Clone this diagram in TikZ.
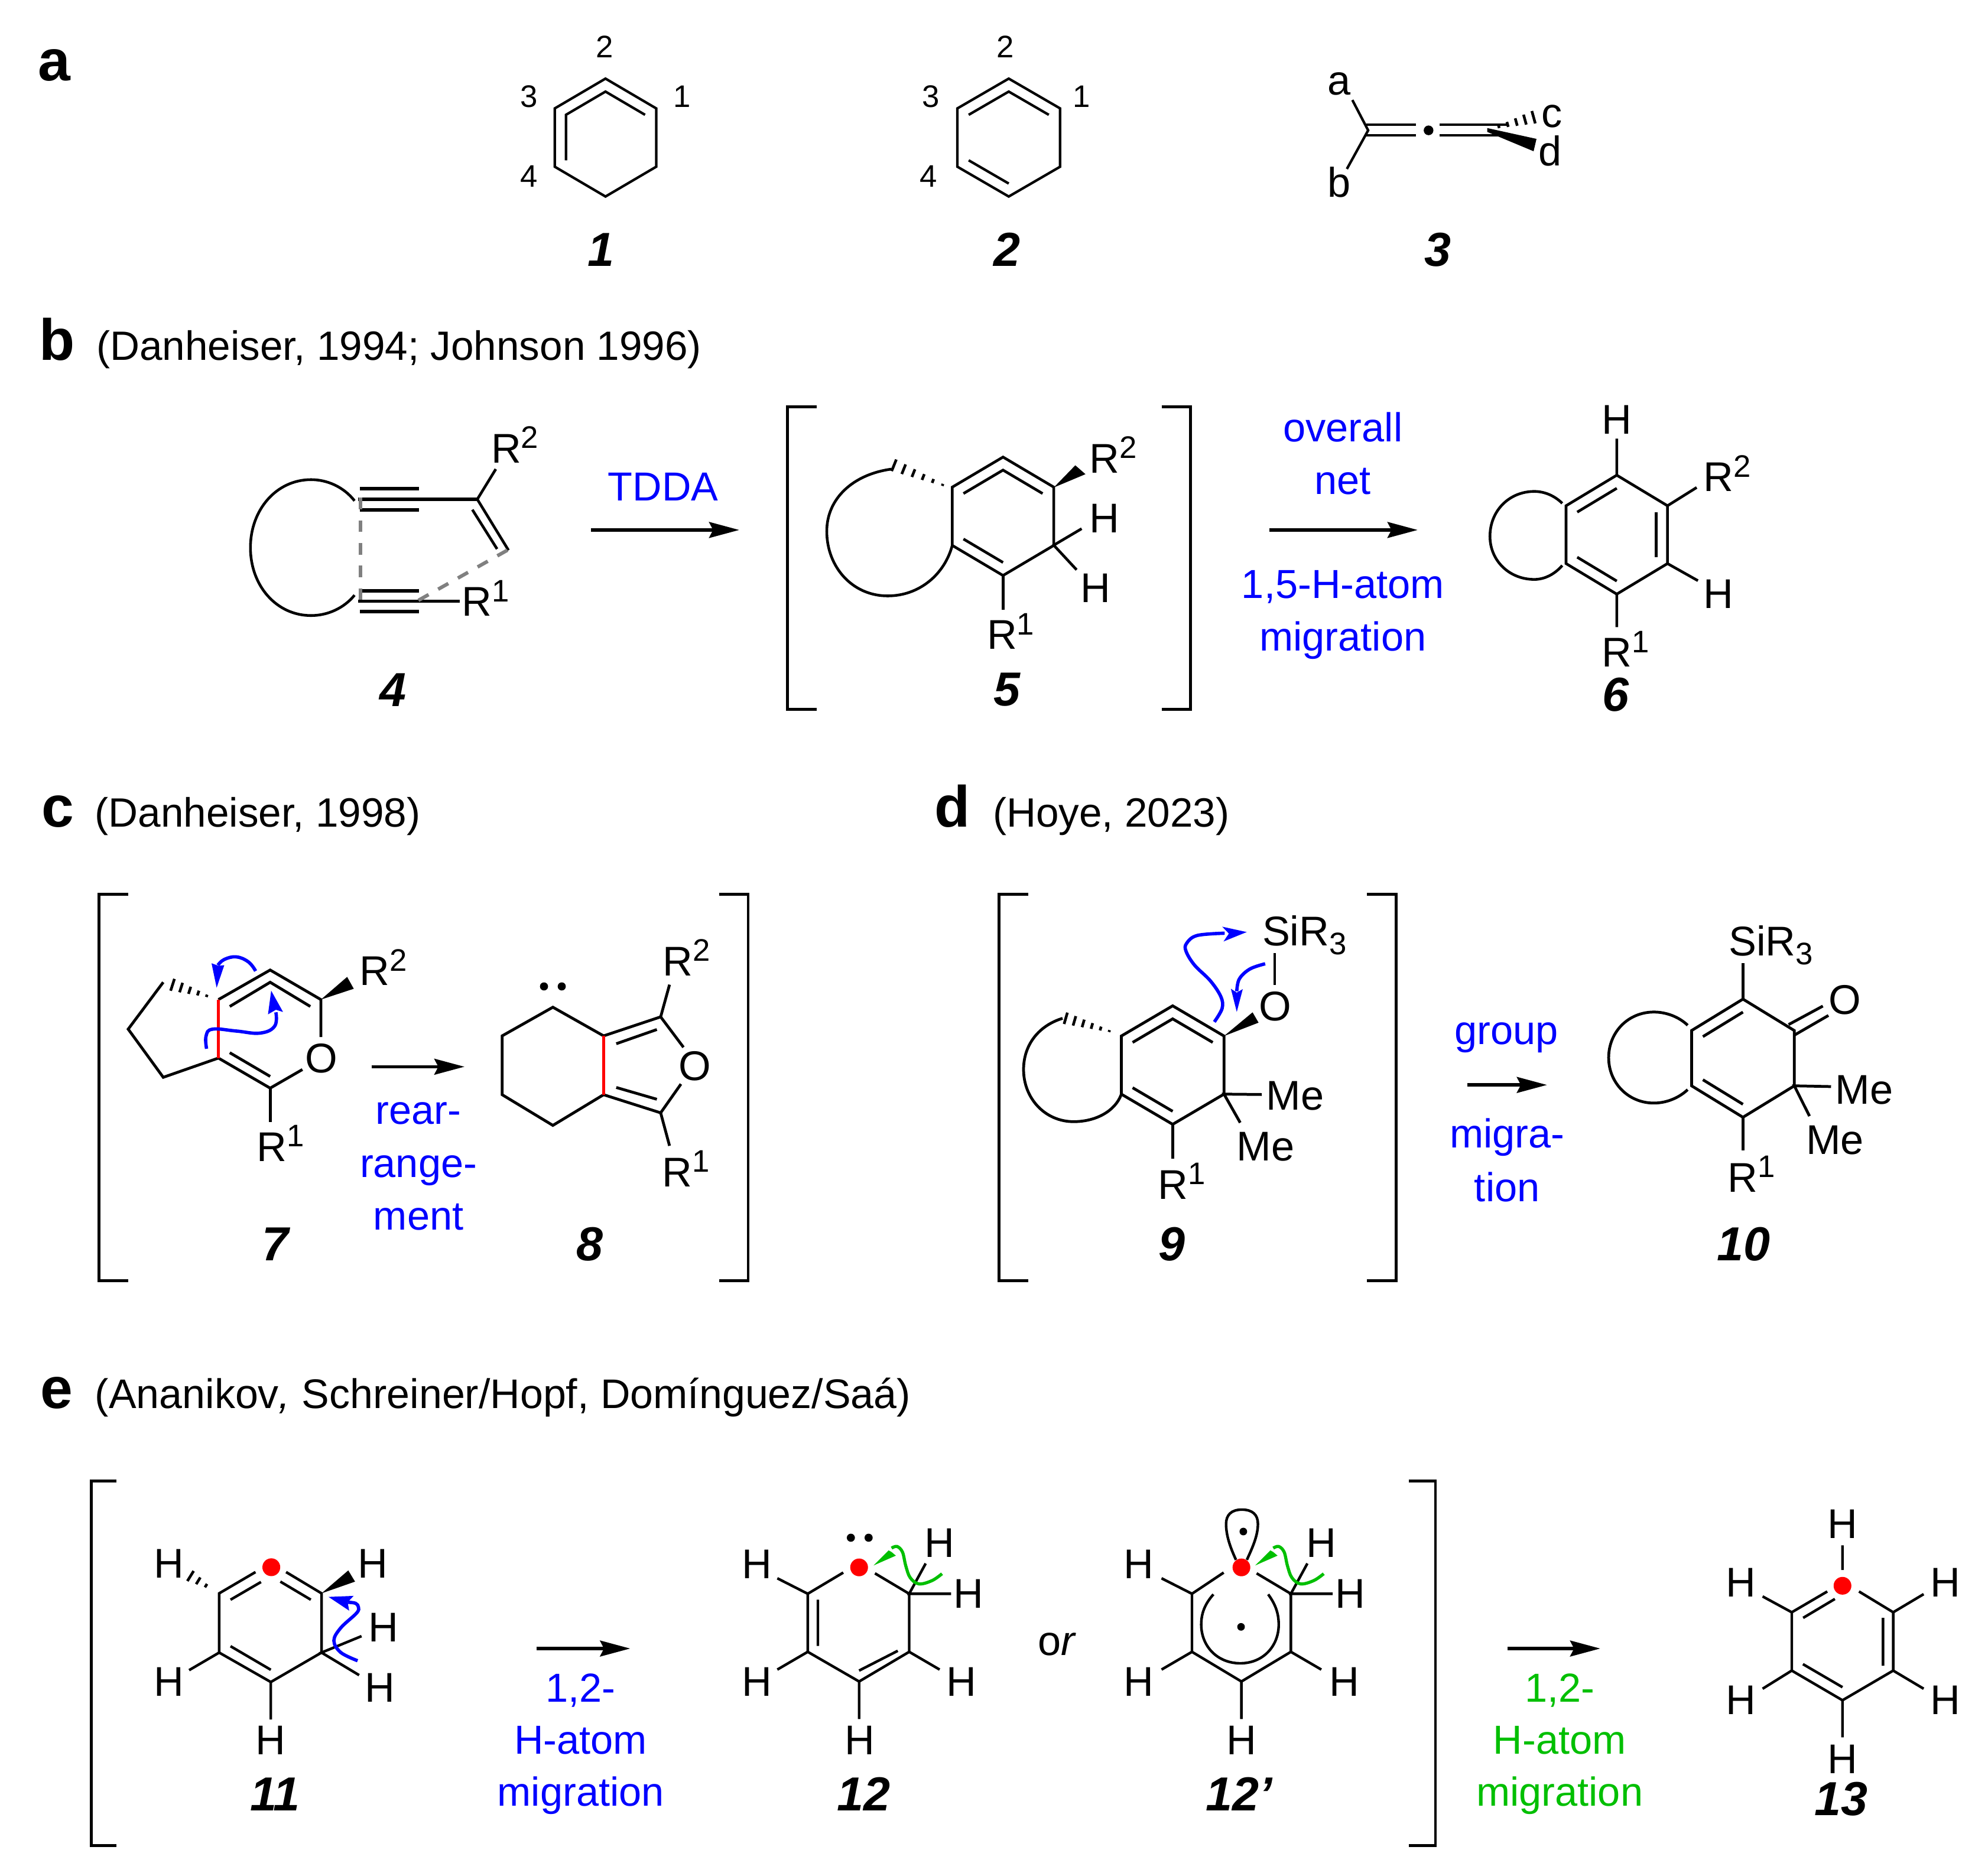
\documentclass[tikz,border=0pt]{standalone}
\usepackage{fontspec}
\setmainfont{Liberation Sans}
\usetikzlibrary{calc,arrows.meta}
\definecolor{cblue}{rgb}{0,0,1}
\definecolor{cgreen}{rgb}{0,0.75,0}
\definecolor{cred}{rgb}{1,0,0}
\definecolor{cgray}{gray}{0.5}
\newcommand\hexc[6]{%
 \coordinate (#11) at (#2,#3-#5);\coordinate (#12) at (#2+#4,#3-#6);\coordinate (#13) at (#2+#4,#3+#6);
 \coordinate (#14) at (#2,#3+#5);\coordinate (#15) at (#2-#4,#3+#6);\coordinate (#16) at (#2-#4,#3-#6);
 \coordinate (#1C) at (#2,#3);}
\newcommand\inp[2]{($(#1#2)!.22!(#1C)$)}
\newcommand\Tc[3]{\node[chem] (#1) at (#2) {#3};}
\newcommand\Tw[3]{\node[chem,anchor=base west,xshift=-1pt] (#1) at (#2) {#3};}
\newcommand\RS[1]{R\raisebox{7pt}{\fontsize{15}{15}\selectfont #1}}
\newcommand\SIR{SiR\raisebox{-4pt}{\fontsize{15}{15}\selectfont 3}}
\newcommand\Small[3]{\node[chem,font=\fontsize{15}{15}\selectfont] (#1) at (#2) {#3};}
\newcommand\Num[3]{\node[chem,font=\fontsize{23}{23}\selectfont\bfseries\itshape] (#1) at (#2) {#3};}
\newcommand\Pan[3]{\node[chem,anchor=base west,font=\fontsize{28}{28}\selectfont\bfseries] (#1) at (#2) {#3};}
\newcommand\Cit[3]{\node[chem,anchor=base west,font=\fontsize{19.7}{20}\selectfont] (#1) at (#2) {#3};}
\newcommand\Blu[3]{\node[chem,anchor=base,text=cblue,font=\fontsize{19.5}{20}\selectfont] (#1) at (#2) {#3};}
\newcommand\Gre[3]{\node[chem,anchor=base,text=cgreen,font=\fontsize{19.5}{20}\selectfont] (#1) at (#2) {#3};}
\newcommand\Rxn[4]{\coordinate (#1s) at (#2,#4);\coordinate (#1e) at (#3,#4);\draw[rxn] (#1s) -- (#1e);}
\newcommand\Brk[4]{%
 \draw[brk] (#1+23,#3) -- (#1,#3) -- (#1,#4) -- (#1+23,#4);
 \draw[brk] (#2-23,#3) -- (#2,#3) -- (#2,#4) -- (#2-23,#4);}
\newcommand\hashw[4]{%
 \coordinate (ha) at #1;\coordinate (hb) at #2;\coordinate (hc) at ($(ha)!1.5!(hb)$);
 \foreach \hi in {1,...,#4}{%
  \pgfmathsetmacro\hf{\hi/#4}\pgfmathsetmacro\hd{0.5*#3*\hf}%
  \coordinate (hP) at ($(ha)!\hf!(hb)$);
  \draw[hashl] ($(hP)!\hd pt!90:(hc)$) -- ($(hP)!\hd pt!-90:(hc)$);
 }}
\tikzset{
 chem/.style={inner sep=0pt,outer sep=0pt,font=\fontsize{20}{20}\selectfont},
 hashl/.style={line width=1.3pt},
 rxn/.style={line width=1.6pt,-{Stealth[length=14.5pt 0 0,width=7.6pt 0,inset=1.9pt 0]}},
 brk/.style={line width=1.4pt,line join=miter},
 blc/.style={cblue,line width=1.6pt},
 grc/.style={cgreen,line width=1.5pt},
 dsh/.style={cgray,line width=1.7pt,dash pattern=on 5.6pt off 5.3pt},
 redb/.style={cred,line width=1.4pt},
 Pa/.style={x=0.021454cm,y=-0.021456cm},
 Pb/.style={shift={(0,3.01)},x=0.021454cm,y=-0.021456cm},
 Pc/.style={shift={(0,5.33)},x=0.021454cm,y=-0.021456cm},
 Hy/.style={x=0.021454cm},
}
\begin{document}
\begin{tikzpicture}[x=0.021564cm,y=-0.021564cm]
\useasboundingbox (0,0) rectangle (1560,1472.35);
\fill[white] (0,0) rectangle (1560,1472.35);
%% ---- panel a
\begin{scope}[line width=1.2pt]
\begin{scope}[Pa]
\Pan{pa}{30,63.8}{a}
\hexc{ra}{477.5}{108.5}{40}{46.5}{23}
\draw (ra1)--(ra2)--(ra3)--(ra4)--(ra5)--(ra6)--cycle;
\draw \inp{ra}{2} -- \inp{ra}{1} -- \inp{ra}{6} -- \inp{ra}{5};
\Small{a2}{477,37}{2}\Small{a1}{538,76}{1}\Small{a3}{417,76}{3}\Small{a4}{417,139}{4}
\hexc{rb}{795.5}{108.5}{40.5}{46.5}{23}
\draw (rb1)--(rb2)--(rb3)--(rb4)--(rb5)--(rb6)--cycle;
\draw \inp{rb}{2} -- \inp{rb}{1} -- \inp{rb}{6};
\draw \inp{rb}{5} -- \inp{rb}{4};
\Small{b2}{793,37}{2}\Small{b1}{853,76}{1}\Small{b3}{734,76}{3}\Small{b4}{732,139}{4}
\Num{n1}{474,197}{1}\Num{n2}{794,197}{2}\Num{n3}{1134,197}{3}
\end{scope}
% allene 3
\draw (1061.2,78.5)--(1073.6,102.3)--(1056.9,132.6);
\draw (1072,97.9)--(1111.1,97.9) (1072,106.3)--(1111.1,106.3);
\fill (1121,102.3) circle (3.8);
\draw (1129.7,97.9)--(1182.5,97.9) (1129.7,106.3)--(1176.3,106.3);
\hashw{(1169.4,101.4)}{(1203.4,92)}{6.2}{5}
\fill (1167,100.5)--(1205.7,109)--(1203.4,118.7)--(1167,103.5)--cycle;
\Tc{la}{1051,65.7}{a}\Tc{lb}{1051,143}{b}\Tc{lc}{1217.6,91.2}{c}\Tc{ld}{1216.5,118.3}{d}
\end{scope}
%% ---- panel b
\begin{scope}[line width=1.3pt,Pa]
\Pan{pb}{31,284}{b}
\Cit{cb}{76,284}{(Danheiser, 1994; Johnson 1996)}
% 4
\draw (279.6,395) .. controls (271,384) and (258,378.3) .. (245.3,378.3) .. controls (218,378.3) and (197.5,402) .. (197.5,431.9) .. controls (197.5,462) and (218,485.5) .. (245.3,485.5) .. controls (258,485.5) and (271,480) .. (279.6,469.4);
\draw[line width=1.7pt] (283.7,385.3)--(330.6,385.3) (283.7,402.2)--(330.6,402.2) (283.7,466.1)--(330.6,466.1) (283.7,482.5)--(330.6,482.5);
\draw[line width=1.45pt] (282.4,393.8)--(376.4,393.8) (282.4,474.1)--(362.7,474.1);
\draw (391,370)--(376.4,393.8)--(401,434);
\draw (372.5,402)--(392,433);
\draw[dsh] (284.4,392.6)--(284.4,474.3);
\draw[dsh] (400.2,433.9)--(330,473.5);
\Tw{r2a}{389,365}{\RS{2}}\Tw{r1a}{366,486}{\RS{1}}
\Num{n4}{310,544}{4}
\Rxn{ar1}{466}{583}{418}
\Blu{tdda}{523,395}{TDDA}
\Brk{621}{939}{320.7}{559.5}
% 5
\hexc{re}{791}{407.2}{40}{46.7}{23}
\draw (re1)--(re2)--(re3)--(re4)--(re5)--(re6)--cycle;
\draw \inp{re}{2} -- \inp{re}{1} -- \inp{re}{6};
\draw \inp{re}{5} -- \inp{re}{4};
\fill (831,384.5)--(848,367)--(856,374)--cycle;
\hashw{(751,385.5)}{(705,367)}{6}{6}
\draw (703,370) .. controls (673,374) and (652,393) .. (652,419) .. controls (652,447) and (672,470) .. (700,470) .. controls (725,470) and (745,453) .. (751,430);
\draw (853,417)--(831,430)--(849,449.4);
\draw (791,454)--(791,481);
\Tw{r2b}{861,373}{\RS{2}}\Tc{h5a}{871,409}{H}\Tc{h5b}{864,463.7}{H}\Tw{r1b}{780,512}{\RS{1}}
\Num{n5}{794,544}{5}
\Rxn{ar2}{1001}{1118}{418}
\Blu{ov}{1059,348.5}{overall}\Blu{nt}{1059,390}{net}\Blu{h15}{1059,472}{1,5-H-atom}\Blu{mg1}{1059,513.5}{migration}
% 6
\hexc{rf}{1275}{421.7}{40}{46.9}{22.8}
\draw (rf1)--(rf2)--(rf3)--(rf4)--(rf5)--(rf6)--cycle;
\draw \inp{rf}{6} -- \inp{rf}{1};
\draw \inp{rf}{2} -- \inp{rf}{3};
\draw \inp{rf}{5} -- \inp{rf}{4};
\draw (rf1)--(1275,346) (rf2)--(1338,384.5) (rf3)--(1339,458) (rf4)--(1275,494.6);
\draw (1232,397) .. controls (1226,391) and (1218,387.6) .. (1210,387.6) .. controls (1190,387.6) and (1175,403) .. (1175,423) .. controls (1175,442) and (1190,457) .. (1210,457) .. controls (1218,457) and (1226,453) .. (1232,446);
\Tc{h6a}{1275,331}{H}\Tw{r2c}{1345,387.6}{\RS{2}}\Tc{h6b}{1355,468.7}{H}\Tw{r1c}{1265,526}{\RS{1}}
\Num{n6}{1274,548}{6}
\end{scope}
%% ---- panel c
\begin{scope}[line width=1.35pt]
\begin{scope}[Pb]
\Pan{pc}{33,649.4}{c}
\Cit{cc}{75,649.4}{(Danheiser, 1998)}
\Brk{78}{590}{702.5}{1007}
\end{scope}
% 7
\draw (171.4,784.5)--(212,761.3)--(251.8,784.5)--(251.8,813.9);
\draw (237.3,839.4)--(212,854)--(171.4,830.4)--(128.1,845.5)--(100.6,807.7)--(128.1,770.9);
\draw (180.3,789.9)--(212,770.9)--(243.5,789.9);
\draw (180.3,826.2)--(212,844.8);
\draw (212,854)--(212,880.8);
\fill (251.8,784.5)--(272.4,766.7)--(277.6,776)--cycle;
\hashw{(168.9,783.7)}{(135.4,772.9)}{6}{5}
\draw[redb] (171.4,784.5)--(171.4,830.4);
\Tc{o7}{252.2,830.9}{O}\Tw{r27}{283.8,773.4}{\RS{2}}\Tw{r17}{203,911.3}{\RS{1}}
\draw[blc] plot[smooth,tension=.7] coordinates {(200.6,762.1) (195,755) (185.5,751) (176,753) (171,757.5)};
\fill[cblue] (170,775.2)--(166,756)--(171.5,758)--(176,757.5)--cycle;
\draw[blc] plot[smooth,tension=.7] coordinates {(162.1,823.1) (161.7,813.1) (166.9,807.7) (185.5,809.2) (204.1,810.8) (215.5,805.4) (216.5,794.5)};
\fill[cblue] (212.8,777.5)--(222.1,794.2)--(216.5,792.5)--(210.3,796.1)--cycle;
\Rxn{ar3}{291.5}{364.5}{837.2}
\begin{scope}[Pb]
\Blu{re1}{330,883.7}{rear-}\Blu{re2}{330,925.5}{range-}\Blu{re3}{330,967.2}{ment}
% 8
\draw (476,814)--(436,791.4)--(396,814)--(396,860.4)--(436,884.6)--(476,860.4);
\draw (476,814)--(521,799)--(539,823);
\draw (476,860.4)--(521,874.7)--(537,852);
\draw (486,820.2)--(518,809) (486,854.7)--(518,864);
\draw (521,799)--(528,773.6) (521,874.7)--(528,900.7);
\draw[redb] (476,814)--(476,860.4);
\fill (429,775) circle (3.2) (443,775) circle (3.2);
\Tc{o8}{548,837.8}{O}\Tw{r28}{524.5,766.6}{\RS{2}}\Tw{r18}{524,933}{\RS{1}}
\Num{n7}{217,978.4}{7}\Num{n8}{465,978.4}{8}
\end{scope}
\end{scope}
%% ---- panel d
\begin{scope}[line width=1.35pt]
\begin{scope}[Pb]
\Pan{pd}{737,649.4}{d}
\Cit{cd}{783,649.4}{(Hoye, 2023)}
\Brk{788}{1101}{702.5}{1007}
\end{scope}
\hexc{rg}{920.2}{835.9}{40.3}{46.5}{22.8}
\draw (rg1)--(rg2)--(rg3)--(rg4)--(rg5)--(rg6)--cycle;
\draw \inp{rg}{2} -- \inp{rg}{1} -- \inp{rg}{6};
\draw \inp{rg}{5} -- \inp{rg}{4};
\fill (960.5,813.1)--(982.9,794.5)--(987.6,802.6)--cycle;
\hashw{(877.3,811.2)}{(836.3,799.2)}{5.7}{6}
\draw (833.8,799.2) .. controls (815,805) and (803.2,820) .. (803.2,839.4) .. controls (803.2,862) and (820,880.3) .. (842.5,880.3) .. controls (860,880.3) and (875,872) .. (879.8,859.1);
\draw (1000.3,772.9)--(1000.3,748.2);
\draw (990.1,859)--(960.5,858.7)--(973.2,881.1);
\draw (920.4,881.9)--(920.4,909.2);
\Tc{o9}{1000.5,789.9}{O}\Tw{si9}{992.2,742.4}{\SIR}\Tw{me9a}{995.3,871}{Me}\Tw{me9b}{972.1,910.8}{Me}
\draw[blc] plot[smooth,tension=.6] coordinates {(952.9,802) (959,791.4) (958,782.2) (949.8,769.8) (937.3,757.4) (930.7,746.6) (931.1,740.4) (939.4,734.2) (961,732.4)};
\fill[cblue] (978.3,731.5)--(959.1,727.3)--(964.3,732.7)--(960.1,738.9)--cycle;
\draw[blc] plot[smooth,tension=.6] coordinates {(992.8,756.4) (980.8,760.5) (972.5,768.3) (970.5,778)};
\fill[cblue] (970.5,794.2)--(965.9,776)--(970.5,779)--(975.2,776.3)--cycle;
\begin{scope}[Pb]
\Tw{r19}{915,942.6}{\RS{1}}
\Rxn{ar4}{1157}{1220}{852.7}
\Blu{gp}{1188,820.5}{group}\Blu{mg2}{1188.5,902.2}{migra-}\Blu{ti}{1188.5,944.5}{tion}
\hexc{rh}{1374.5}{831.6}{40.5}{46.6}{21.8}
\draw (rh1)--(rh2)--(rh3)--(rh4)--(rh5)--(rh6)--cycle;
\draw \inp{rh}{6} -- \inp{rh}{1};
\draw \inp{rh}{5} -- \inp{rh}{4};
\draw (1410.5,805.1)--(1437.5,790.5) (1415.1,813.4)--(1441.9,797.9);
\draw (rh1)--(1374.5,756.7);
\draw (1444,854)--(rh3)--(1427,877.3);
\draw (rh4)--(1374.5,904.4);
\draw (1330.9,805.6) .. controls (1324,799) and (1314,795.2) .. (1304.3,795.2) .. controls (1284,795.2) and (1268.6,811) .. (1268.6,831.2) .. controls (1268.6,851) and (1284,867) .. (1304.3,867) .. controls (1314,867) and (1324,863) .. (1330.9,856.4);
\Tc{o10}{1455,785.8}{O}\Tw{si10}{1365,751}{\SIR}\Tw{me10a}{1449,867.8}{Me}\Tw{me10b}{1426,907.4}{Me}\Tw{r110}{1364,937}{\RS{1}}
\Num{n9}{924,978.4}{9}\Num{n10}{1375,978.4}{10}
\end{scope}
\end{scope}
%% ---- panel e
\begin{scope}[line width=1.25pt]
\begin{scope}[Pc]
\Pan{pe}{32,1105.5}{e}
\node[chem,anchor=base west,font=\fontsize{19.9}{20}\selectfont] (ce) at (75,1105.5) {(Ananikov{\itshape ,} Schreiner/Hopf, Domínguez/Saá)};
\draw[brk] (92,1162.7)--(72,1162.7)--(72,1450.1)--(92,1450.1);
\draw[brk] (1111,1162.7)--(1132,1162.7)--(1132,1450.1)--(1111,1450.1);
\end{scope}
% 11
\draw (200.5,1233.8)--(172,1250.5)--(172,1297)--(212.5,1320.1)--(252.3,1297)--(252.3,1250.5)--(224.5,1233.8);
\draw (180.9,1255.5)--(204.8,1241.6) (220,1241.3)--(243.9,1255.5) (180.9,1292)--(212.5,1310.5);
\fill[cred] (212.9,1230) circle (7);
\draw (212.5,1320.1)--(212.5,1349.5) (172,1297)--(148.4,1310.8);
\draw (283.7,1284.1)--(252.3,1297)--(281.8,1314.7);
\fill (252.3,1250.5)--(273.3,1232.5)--(278.6,1241.3)--cycle;
\hashw{(167.7,1248.2)}{(149.5,1236.9)}{5.7}{3}
\Tc{h11a}{132.6,1227.4}{H}\Tc{h11b}{132.6,1319.8}{H}\Tc{h11c}{292.6,1227.4}{H}\Tc{h11d}{301,1277.1}{H}\Tc{h11e}{298.3,1324.7}{H}\Tc{h11f}{212.5,1365.9}{H}
\draw[blc] plot[smooth,tension=.6] coordinates {(280.6,1303.4) (267.4,1296.9) (262,1287.6) (267.4,1277.6) (279.8,1266) (281.3,1261.4) (279,1258.3) (272.8,1257.5)};
\fill[cblue] (257.8,1253.3)--(277.5,1252.5)--(272.8,1257.5)--(274,1264.1)--cycle;
\begin{scope}[Pc]
\Rxn{ar5}{423}{497}{1294.9}
\Blu{e12a}{458,1337.2}{1,2-}\Blu{e12b}{458,1378.3}{H-atom}\Blu{e12c}{458,1419.2}{migration}
% 12
\draw (665,1235)--(637,1251.7)--(637,1297.5)--(677.5,1320.9)--(717,1297.5)--(717,1251.7)--(690,1235.6);
\draw (645,1256.4)--(645,1292.8) (677.5,1312.3)--(708,1296.7);
\fill[cred] (677.5,1230.9) circle (7);
\draw (637,1251.7)--(613,1239.5) (637,1297.5)--(613,1311.5) (717,1297.5)--(741,1311.5) (677.5,1320.9)--(677.5,1350.5);
\draw (730,1227.8)--(717,1251.7)--(750,1251.7);
\fill (671,1207.5) circle (3.2) (685,1207.5) circle (3.2);
\Tc{h12a}{597,1228.3}{H}\Tc{h12b}{597,1320.9}{H}\Tc{h12c}{758,1320.9}{H}\Tc{h12d}{678,1367.4}{H}\Tc{h12e}{741,1211.4}{H}\Tc{h12f}{764,1251.7}{H}
\node[chem] (orw) at (833,1291.4) {o{\itshape r}};
% 12'
\draw (965,1235)--(940,1251.7)--(940,1297.5)--(979,1320.9)--(1018,1297.5)--(1018,1251.7)--(991,1235.6);
\fill[cred] (979,1230.9) circle (7);
\draw (940,1251.7)--(916,1239.5) (940,1297.5)--(916,1311.5) (1018,1297.5)--(1042,1311.5) (979,1320.9)--(979,1350.5);
\draw (1031,1227.8)--(1018,1251.7)--(1051,1251.7);
\Tc{h13a}{898,1228.3}{H}\Tc{h13b}{898,1320.9}{H}\Tc{h13c}{1060,1320.9}{H}\Tc{h13d}{979,1367.4}{H}\Tc{h13e}{1042,1211.4}{H}\Tc{h13f}{1065,1251.7}{H}
\Rxn{ar6}{1189}{1262}{1294.9}
\Gre{g12a}{1230,1337.2}{1,2-}\Gre{g12b}{1230,1378.3}{H-atom}\Gre{g12c}{1230,1419.2}{migration}
% 13
\draw (1441,1249.9)--(1413,1266.3)--(1413,1312.3)--(1453,1335.7)--(1493,1312.3)--(1493,1266.3)--(1466,1249.9);
\draw (1422,1270.7)--(1447,1255.8) (1485,1270.7)--(1485,1308.4) (1421.8,1307.2)--(1453,1325.4);
\fill[cred] (1453,1245.4) circle (7);
\draw (1453,1213.5)--(1453,1233) (1413,1266.3)--(1390,1253.8) (1493,1266.3)--(1517,1252) (1413,1312.3)--(1390,1326.6) (1493,1312.3)--(1517,1326.6) (1453,1335.7)--(1453,1365);
\Tc{h14a}{1453,1196.6}{H}\Tc{h14b}{1373,1242.8}{H}\Tc{h14c}{1534,1242.8}{H}\Tc{h14d}{1373,1335.7}{H}\Tc{h14e}{1534,1335.7}{H}\Tc{h14f}{1453,1382}{H}
\Num{n11}{217,1409.8}{11}\Num{n12}{681,1409.8}{12}\Num{n12p}{977,1409.8}{12’}\Num{n13}{1452,1413.7}{13}
\end{scope}
\begin{scope}[Hy]
% arrows and orbitals read at true height
\draw[grc] plot[smooth,tension=.6] coordinates {(742.9,1235.1) (735,1240.5) (724.7,1243.1) (717.8,1238.2) (714.3,1228.9) (711.7,1218.1) (707.4,1213.7) (703.1,1215)};
\fill[cgreen] (688.9,1228.6)--(700.8,1216.8)--(703,1218)--(706.5,1220.9)--cycle;
\draw (974.7,1224.2) .. controls (970,1214) and (966.9,1205) .. (966.9,1196) .. controls (966.9,1189) and (971,1184.8) .. (979.3,1184.8) .. controls (988,1184.8) and (992,1189) .. (992,1196) .. controls (992,1205) and (988,1214) .. (983.3,1224.2);
\fill (980.5,1202) circle (3);
\draw (956.9,1251.3) .. controls (951,1258) and (947.3,1265) .. (947.3,1275) .. controls (947.3,1292) and (960,1305.4) .. (978.1,1305.4) .. controls (996,1305.4) and (1008.4,1292) .. (1008.4,1275) .. controls (1008.4,1265) and (1005,1258) .. (1000.1,1251.3);
\fill (978.7,1276.8) circle (3);
\draw[grc] plot[smooth,tension=.6] coordinates {(1043.9,1235.1) (1036,1240.5) (1025.7,1243.1) (1018.8,1238.2) (1015.3,1228.9) (1012.7,1218.1) (1008.4,1213.7) (1004.1,1215)};
\fill[cgreen] (989.9,1228.6)--(1001.8,1216.8)--(1004,1218)--(1007.5,1220.9)--cycle;
\end{scope}
\end{scope}
\end{tikzpicture}
\end{document}
